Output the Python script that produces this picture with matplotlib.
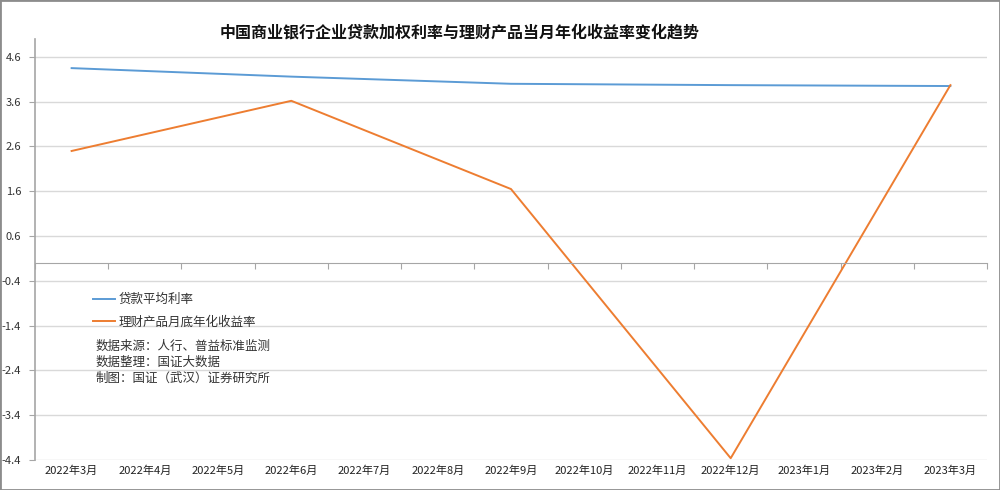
import numpy as np
import matplotlib
matplotlib.use("Agg")
import matplotlib.pyplot as plt
from matplotlib.patches import Rectangle

plt.rcParams['font.family'] = ['Noto Sans CJK SC', 'DejaVu Sans']

# datos
meses = ["2022年3月", "2022年4月", "2022年5月", "2022年6月", "2022年7月",
         "2022年8月", "2022年9月", "2022年10月", "2022年11月", "2022年12月",
         "2023年1月", "2023年2月", "2023年3月"]
idx_trimestre = [0, 3, 6, 9, 12]
tasa_prestamo = [4.35, 4.16, 4.00, 3.97, 3.95]
rendimiento = [2.50, 3.62, 1.65, -4.36, 3.97]
yticks = [4.6, 3.6, 2.6, 1.6, 0.6, -0.4, -1.4, -2.4, -3.4, -4.4]

azul = "#5B9BD5"
naranja = "#ED7D31"

fig = plt.figure(figsize=(10, 4.9), dpi=100)
ax = fig.add_axes([0.035, 0.0612, 0.952, 0.8592])

l1, = ax.plot(idx_trimestre, tasa_prestamo, color=azul, lw=1.4, label="贷款平均利率")
l2, = ax.plot(idx_trimestre, rendimiento, color=naranja, lw=1.4, label="理财产品月底年化收益率")

ax.set_xlim(-0.5, len(meses) - 0.5)
ax.set_ylim(-4.4, 5.0)
ax.set_yticks(yticks)
ax.set_yticklabels([f"{v:.1f}" for v in yticks], fontsize=8)
ax.yaxis.grid(True, color="#D9D9D9", lw=1)
ax.set_axisbelow(True)

# eje x en cero con marcas entre categorias
ax.spines['bottom'].set_position(('data', 0))
ax.spines['bottom'].set_color("#A6A6A6")
ax.spines['left'].set_color("#A6A6A6")
ax.spines['left'].set_linewidth(1.2)
ax.spines['top'].set_visible(False)
ax.spines['right'].set_visible(False)
ax.set_xticks(np.arange(len(meses) + 1) - 0.5)
ax.tick_params(axis='x', length=4, color="#A6A6A6", labelbottom=False)
ax.tick_params(axis='y', length=4, color="#A6A6A6", pad=6, labelcolor="#333333")

sec = ax.secondary_xaxis(0)
sec.set_xticks(np.arange(len(meses)))
sec.set_xticklabels(meses, fontsize=8, color="#222222")
sec.tick_params(length=0, pad=4)
sec.spines['bottom'].set_visible(False)

fig.text(0.46, 1 - 32 / 490, "中国商业银行企业贷款加权利率与理财产品当月年化收益率变化趋势",
         ha="center", va="center", fontsize=11.5, fontweight="bold", color="#111111")

fig.legend(handles=[l1, l2], loc="upper left", bbox_to_anchor=(0.082, 1 - 282 / 490),
           frameon=False, fontsize=9, handlelength=1.7, handletextpad=0.3,
           labelspacing=0.75, labelcolor="#333333")

fig.text(0.096, 1 - 340 / 490, "数据来源：人行、普益标准监测\n数据整理：国证大数据\n制图：国证（武汉）证券研究所",
         ha="left", va="top", fontsize=9, linespacing=1.3, color="#333333")

fig.patches.append(Rectangle((0, 0), 1, 1, transform=fig.transFigure, fill=False,
                             edgecolor="#8C8C8C", lw=2))

fig.savefig("out.png", dpi=100)
